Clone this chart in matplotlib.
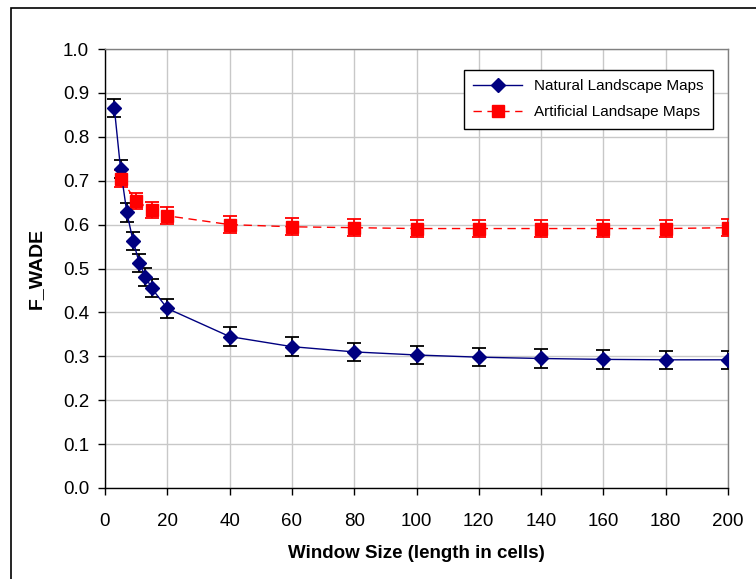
import numpy as np
import matplotlib
matplotlib.use('Agg')
import matplotlib.pyplot as plt
from matplotlib.patches import Rectangle

plt.rcParams['font.family'] = ['Liberation Sans', 'DejaVu Sans']

# data
natural_x = [3, 5, 7, 9, 11, 13, 15, 20, 40, 60, 80, 100, 120, 140, 160, 180, 200]
natural_y = [0.865, 0.727, 0.628, 0.563, 0.513, 0.481, 0.455, 0.409, 0.345, 0.322,
             0.310, 0.303, 0.298, 0.295, 0.293, 0.292, 0.292]
natural_err = [0.021, 0.020, 0.021, 0.021, 0.021, 0.020, 0.020, 0.021, 0.021, 0.021,
               0.021, 0.021, 0.021, 0.021, 0.021, 0.021, 0.021]

artificial_x = [5, 10, 15, 20, 40, 60, 80, 100, 120, 140, 160, 180, 200]
artificial_y = [0.705, 0.654, 0.633, 0.620, 0.600, 0.595, 0.593, 0.591, 0.591,
                0.591, 0.591, 0.591, 0.593]
artificial_err = [0.019, 0.019, 0.019, 0.019, 0.019, 0.019, 0.019, 0.019, 0.019,
                  0.019, 0.019, 0.019, 0.019]

xticks = np.arange(0, 201, 20)
yticks = np.arange(0, 1.01, 0.1)

fig = plt.figure(figsize=(7.56, 5.79), dpi=100)
ax = fig.add_axes([105/756, 1 - 488/579, 623/756, 439/579])

# outer chart frame (runs off the right and bottom edge)
fig.patches.append(Rectangle((11/756, -0.1), 1.2, 1 - 8/579 + 0.1,
                             transform=fig.transFigure, fill=False,
                             edgecolor='black', linewidth=1.2))

ax.errorbar(natural_x, natural_y, yerr=natural_err, fmt='none', ecolor='black',
            elinewidth=1.3, capsize=5, capthick=1.3, zorder=3)
ax.errorbar(artificial_x, artificial_y, yerr=artificial_err, fmt='none', ecolor='red',
            elinewidth=1.3, capsize=5, capthick=1.3, zorder=3)

ax.plot(natural_x, natural_y, color='#000080', linewidth=1, marker='D',
        markersize=7, markerfacecolor='#000080', markeredgecolor='#000080',
        label='Natural Landscape Maps', zorder=4)
ax.plot(artificial_x, artificial_y, color='red', linewidth=1, linestyle=(0, (6, 4)),
        marker='s', markersize=9, markerfacecolor='red', markeredgecolor='red',
        label='Artificial Landsape Maps', zorder=4)

ax.set_xlim(0, 200)
ax.set_ylim(0, 1.0)
ax.set_xticks(xticks)
ax.set_yticks(yticks)
ax.set_yticklabels([f'{v:.1f}' for v in yticks])
ax.tick_params(axis='both', labelsize=13.5, direction='out', length=5, width=1,
               color='black')
ax.tick_params(axis='x', pad=13)
ax.tick_params(axis='y', pad=6.5)
ax.grid(True, color='#c8c8c8', linewidth=1)
ax.set_axisbelow(True)

for s in ['top', 'right']:
    ax.spines[s].set_color('#808080')
    ax.spines[s].set_linewidth(1)
for s in ['left', 'bottom']:
    ax.spines[s].set_color('black')
    ax.spines[s].set_linewidth(1)

ax.set_xlabel('Window Size (length in cells)', fontsize=13.5, fontweight='bold',
              labelpad=11)
ax.set_ylabel('F_WADE', fontsize=14, fontweight='bold', labelpad=13)

leg = ax.legend(loc='upper right', bbox_to_anchor=(0.976, 0.952), borderaxespad=0,
                fontsize=11, fancybox=False, framealpha=1, edgecolor='black',
                handlelength=3.2, borderpad=0.6, labelspacing=0.8)
leg.get_frame().set_linewidth(1)

fig.savefig('out.png', dpi=100)
